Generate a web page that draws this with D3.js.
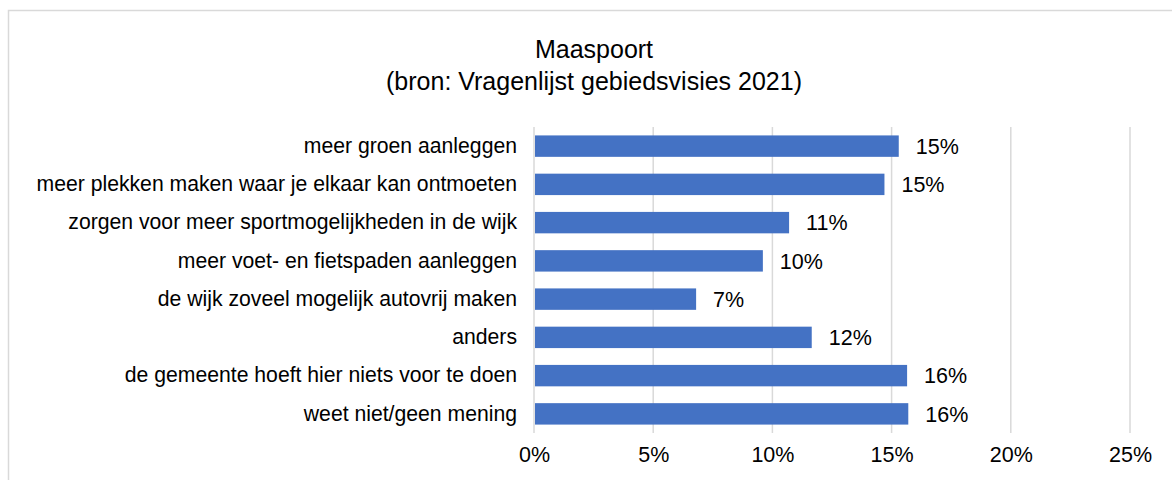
<!DOCTYPE html>
<html>
<head>
<meta charset="utf-8">
<script src="https://cdn.jsdelivr.net/npm/d3@7"></script>
<style>
  body { margin: 0; background: #fff; }
  text { font-family: "Liberation Sans", Arial, sans-serif; fill: #000; }
</style>
</head>
<body>
<div id="chart"></div>
<script>
// answers, top to bottom
const categories = [
  "meer groen aanleggen",
  "meer plekken maken waar je elkaar kan ontmoeten",
  "zorgen voor meer sportmogelijkheden in de wijk",
  "meer voet- en fietspaden aanleggen",
  "de wijk zoveel mogelijk autovrij maken",
  "anders",
  "de gemeente hoeft hier niets voor te doen",
  "weet niet/geen mening"
];
// share of respondents (fraction)
const values = [0.153, 0.147, 0.107, 0.096, 0.068, 0.1165, 0.1565, 0.157];
const xTicks = [0, 0.05, 0.10, 0.15, 0.20, 0.25];
const titleLines = ["Maaspoort", "(bron: Vragenlijst gebiedsvisies 2021)"];

let width = 1172,
    height = 480,
    margin = { top: 127, left: 534, right: 42, bottom: 47 };

let svg = d3.select("#chart")
  .append("svg")
    .attr("width", width)
    .attr("height", height)
    .attr("viewBox", [0, 0, width, height].join(" "));

// chart area border (right/bottom edges fall outside the picture)
svg.append("rect")
  .attr("x", 8.5).attr("y", 10.5)
  .attr("width", width + 20).attr("height", height + 20)
  .attr("fill", "none")
  .attr("stroke", "#d9d9d9")
  .attr("stroke-width", 1.5);

let title = svg.append("text")
  .attr("text-anchor", "middle")
  .attr("font-size", 25);
title.selectAll("tspan")
  .data(titleLines)
  .enter().append("tspan")
    .attr("x", 594)
    .attr("y", (d, i) => 58 + i * 32)
    .text(d => d);

let xScale = d3.scaleLinear()
  .domain([0, 0.25])
  .range([margin.left, 1130]);

let yScale = d3.scaleBand()
  .domain(categories)
  .range([margin.top, height - margin.bottom])
  .paddingInner(0.44)
  .paddingOuter(0.22);

// vertical gridlines
svg.append("g")
  .selectAll("line")
  .data(xTicks)
  .enter().append("line")
    .attr("x1", d => xScale(d)).attr("x2", d => xScale(d))
    .attr("y1", margin.top).attr("y2", height - margin.bottom)
    .attr("stroke", "#d9d9d9")
    .attr("stroke-width", 1.5);

// x axis labels
let xAxis = d3.axisBottom(xScale)
  .tickValues(xTicks)
  .tickFormat(d3.format(".0%"))
  .tickSize(0)
  .tickPadding(0);

svg.append("g")
  .attr("transform", "translate(0," + (height - margin.bottom + 14) + ")")
  .call(xAxis)
  .call(g => g.select(".domain").remove())
  .call(g => g.selectAll("text")
    .attr("font-size", 21.5)
    .attr("font-family", "Liberation Sans, Arial, sans-serif")
    .attr("fill", "#000"));

// category labels
let yAxis = d3.axisLeft(yScale).tickSize(0).tickPadding(17);
svg.append("g")
  .attr("transform", "translate(" + margin.left + ",0)")
  .call(yAxis)
  .call(g => g.select(".domain").remove())
  .call(g => g.selectAll("text")
    .attr("font-size", 21.2)
    .attr("font-family", "Liberation Sans, Arial, sans-serif")
    .attr("fill", "#000"));

// bars
svg.append("g")
  .selectAll("rect")
  .data(values)
  .enter().append("rect")
    .attr("x", xScale(0) + 1)
    .attr("y", (d, i) => yScale(categories[i]))
    .attr("width", d => xScale(d) - xScale(0) - 1)
    .attr("height", yScale.bandwidth())
    .attr("fill", "#4472c4");

// value labels
svg.append("g")
  .selectAll("text")
  .data(values)
  .enter().append("text")
    .attr("x", d => xScale(d) + 17)
    .attr("y", (d, i) => yScale(categories[i]) + yScale.bandwidth() / 2)
    .attr("dy", "0.36em")
    .attr("font-size", 21.5)
    .text(d => d3.format(".0%")(d));
</script>
</body>
</html>
